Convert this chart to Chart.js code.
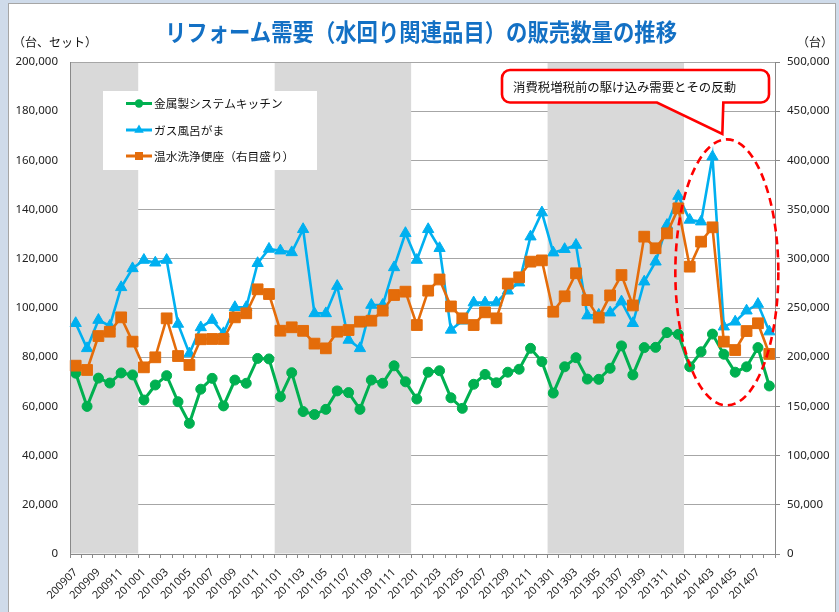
<!DOCTYPE html>
<html>
<head>
<meta charset="utf-8">
<script src="https://cdn.jsdelivr.net/npm/chart.js@4.4.1/dist/chart.umd.min.js"></script>
<style>
  html, body { margin: 0; padding: 0; }
  body { width: 839px; height: 612px; overflow: hidden; background: #cfdbea; position: relative; font-family: "Noto Sans CJK JP", sans-serif; }
  #panel { position: absolute; left: 8px; top: 3px; width: 828px; height: 620px; background: #fff; border: 1px solid #a6a6a6; box-sizing: border-box; }
  #c { position: absolute; left: 0; top: 0; }
  .txt { position: absolute; white-space: nowrap; color: #111; font-family: "Noto Sans CJK JP", sans-serif; }
  #title { left: 165px; top: 19px; font-size: 24px; line-height: 24px; font-weight: bold; color: #1370c4; transform: scaleX(0.89); transform-origin: 0 0; }
  #unitL { left: 13px; top: 36px; font-size: 12px; line-height: 12px; }
  #unitR { right: 6px; top: 36px; font-size: 12px; line-height: 12px; }
</style>
</head>
<body>
<div id="panel"></div>
<canvas id="c" width="839" height="612"></canvas>
<div class="txt" id="title">リフォーム需要（水回り関連品目）の販売数量の推移</div>
<div class="txt" id="unitL">（台、セット）</div>
<div class="txt" id="unitR">（台）</div>
<script>
// ---- data ----
const categories = [
  '200907','200908','200909','200910','200911','200912',
  '201001','201002','201003','201004','201005','201006','201007','201008','201009','201010','201011','201012',
  '201101','201102','201103','201104','201105','201106','201107','201108','201109','201110','201111','201112',
  '201201','201202','201203','201204','201205','201206','201207','201208','201209','201210','201211','201212',
  '201301','201302','201303','201304','201305','201306','201307','201308','201309','201310','201311','201312',
  '201401','201402','201403','201404','201405','201406','201407','201408'
];
const seriesNames = ['金属製システムキッチン', 'ガス風呂がま', '温水洗浄便座（右目盛り）'];
const kitchen = [
  73500, 60000, 71500, 69500, 73600, 72800, 62600, 68700, 72500, 61900,
  53100, 67000, 71400, 60200, 70700, 69400, 79500, 79300, 63900, 73700,
  57900, 56700, 58800, 66300, 65600, 58800, 70700, 69400, 76500, 70000,
  63000, 73900, 74500, 63500, 59200, 69000, 73000, 69600, 73900, 75100,
  83600, 78200, 65400, 76100, 79800, 71100, 71000, 75500, 84600, 72800,
  83900, 84000, 90000, 89300, 76100, 82200, 89400, 81200, 73900, 76100,
  83900, 68300
];
const bath = [
  93800, 83600, 95100, 92700, 108400, 116100, 119500, 118400, 119500, 93500,
  81500, 92100, 95100, 89700, 100300, 100300, 118200, 124000, 123300, 122600,
  132000, 97800, 97800, 108900, 87000, 83600, 101200, 101200, 116500, 130400,
  119500, 132000, 124300, 91100, 94800, 102200, 102200, 102200, 107000, 110300,
  129000, 138800, 122500, 123900, 125600, 96900, 97200, 98100, 102600, 93800,
  110700, 118800, 133700, 145500, 135800, 135100, 161500, 92400, 94400, 98900,
  101600, 90400
];
const toilet = [
  191400, 187000, 221500, 225900, 240500, 215800, 189700, 199900, 239500, 201200,
  192100, 218200, 218500, 218500, 240500, 244600, 269000, 264200, 226900, 230400,
  226800, 213800, 209000, 225900, 227600, 236100, 237100, 247300, 263200, 266600,
  232700, 267600, 279000, 251600, 239500, 232700, 245600, 239500, 274800, 281200,
  297100, 298400, 246200, 261900, 285300, 258000, 240200, 262800, 283500, 252600,
  322500, 310700, 325900, 351300, 292000, 317400, 332000, 215800, 207300, 226600,
  234500, 203300
];
const shadedYears = ['2009', '2011', '2013'];
const leftTicks = { min: 0, max: 200000, step: 20000 };
const rightTicks = { min: 0, max: 500000, step: 50000 };
const calloutText = '消費税増税前の駆け込み需要とその反動';

// ---- plugins ----
const shadePlugin = {
  id: 'shade',
  beforeDatasetsDraw(chart) {
    const { ctx, chartArea: a, scales: { x } } = chart;
    const half = (x.getPixelForValue(1) - x.getPixelForValue(0)) / 2;
    ctx.save();
    ctx.fillStyle = '#d9d9d9';
    shadedYears.forEach(yr => {
      const idx = categories.map((c, i) => c.startsWith(yr) ? i : -1).filter(i => i >= 0);
      if (!idx.length) return;
      const l = Math.max(a.left + 0.5, x.getPixelForValue(idx[0]) - half);
      const r = Math.min(a.right - 0.5, x.getPixelForValue(idx[idx.length - 1]) + half);
      ctx.fillRect(l, a.top + 1, r - l, a.bottom - a.top - 1.5);
    });
    ctx.restore();
  }
};

function marker(ctx, style, x, y, r) {
  ctx.beginPath();
  if (style === 'circle') {
    ctx.arc(x, y, r, 0, Math.PI * 2);
  } else if (style === 'triangle') {
    ctx.moveTo(x, y - r);
    ctx.lineTo(x + r * 0.866, y + r * 0.5);
    ctx.lineTo(x - r * 0.866, y + r * 0.5);
    ctx.closePath();
  } else {
    ctx.rect(x - r, y - r, 2 * r, 2 * r);
  }
  ctx.fill();
}

const overlayPlugin = {
  id: 'overlay',
  afterDraw(chart) {
    const { ctx, scales: { x, y } } = chart;
    ctx.save();
    // legend box
    ctx.fillStyle = '#ffffff';
    ctx.fillRect(103, 91, 214, 79);
    const rows = [103.5, 130, 156];
    const msize = { circle: 4.2, triangle: 5.5, rect: 4 };
    chart.data.datasets.forEach((ds, i) => {
      const ry = rows[i];
      ctx.strokeStyle = ds.borderColor;
      ctx.lineWidth = 3;
      ctx.beginPath(); ctx.moveTo(126, ry); ctx.lineTo(152, ry); ctx.stroke();
      ctx.fillStyle = ds.backgroundColor;
      marker(ctx, ds.pointStyle, 139, ry, msize[ds.pointStyle]);
      ctx.fillStyle = '#111';
      ctx.font = '11.7px "Noto Sans CJK JP"';
      ctx.textBaseline = 'middle';
      ctx.textAlign = 'left';
      ctx.fillText(ds.label, 154, ry + 0.5);
    });

    // dashed ellipse around the 2014 spike
    const cx = x.getPixelForValue(57) + 3;
    const cy = y.getPixelForValue(114500);
    ctx.strokeStyle = '#ff0000';
    ctx.lineWidth = 2.6;
    ctx.setLineDash([8, 5]);
    ctx.beginPath();
    ctx.ellipse(cx, cy, 51.5, 133, 0, 0, Math.PI * 2);
    ctx.stroke();
    ctx.setLineDash([]);

    // callout box
    const L = 502, T = 70, R = 769, B = 102.5, rad = 8;
    const tipX = cx - 4.5, tipY = 134;
    ctx.beginPath();
    ctx.moveTo(L + rad, T);
    ctx.lineTo(R - rad, T);
    ctx.arcTo(R, T, R, T + rad, rad);
    ctx.lineTo(R, B - rad);
    ctx.arcTo(R, B, R - rad, B, rad);
    ctx.lineTo(tipX + 1, B);
    ctx.lineTo(tipX, tipY);
    ctx.lineTo(657, B);
    ctx.lineTo(L + rad, B);
    ctx.arcTo(L, B, L, B - rad, rad);
    ctx.lineTo(L, T + rad);
    ctx.arcTo(L, T, L + rad, T, rad);
    ctx.closePath();
    ctx.fillStyle = '#ffffff';
    ctx.fill();
    ctx.strokeStyle = '#ff0000';
    ctx.lineWidth = 2.6;
    ctx.stroke();
    ctx.fillStyle = '#111';
    ctx.font = '12.4px "Noto Sans CJK JP"';
    ctx.textBaseline = 'middle';
    ctx.textAlign = 'left';
    ctx.fillText(calloutText, 513, 87);
    ctx.restore();
  }
};

const fmt = v => Number(v).toLocaleString('en-US');
const axisGray = '#898989';

new Chart(document.getElementById('c'), {
  type: 'line',
  data: {
    labels: categories,
    datasets: [
      {
        label: seriesNames[0], data: kitchen, yAxisID: 'y',
        borderColor: '#00b050', backgroundColor: '#00b050',
        pointStyle: 'circle', pointRadius: 5, pointBorderWidth: 1,
        pointBorderColor: '#00b050', pointBackgroundColor: '#00b050',
        borderWidth: 3, tension: 0, order: 2
      },
      {
        label: seriesNames[1], data: bath, yAxisID: 'y',
        borderColor: '#00b0f0', backgroundColor: '#00b0f0',
        pointStyle: 'triangle', pointRadius: 6.5, pointBorderWidth: 1,
        pointBorderColor: '#00b0f0', pointBackgroundColor: '#00b0f0',
        borderWidth: 2.6, tension: 0, order: 1
      },
      {
        label: seriesNames[2], data: toilet, yAxisID: 'y2',
        borderColor: '#e46c0a', backgroundColor: '#e46c0a',
        pointStyle: 'rect', pointRadius: 7.6, pointBorderWidth: 1,
        pointBorderColor: '#e46c0a', pointBackgroundColor: '#e46c0a',
        borderWidth: 2.6, tension: 0, order: 0
      }
    ]
  },
  options: {
    responsive: false,
    animation: false,
    devicePixelRatio: 1,
    layout: { padding: { top: 62, left: 0, right: 0, bottom: 0 } },
    plugins: { legend: { display: false }, tooltip: { enabled: false }, title: { display: false } },
    scales: {
      x: {
        type: 'category',
        offset: true,
        grid: { offset: true, drawOnChartArea: false, drawTicks: true, tickLength: 4, color: axisGray },
        border: { color: axisGray, z: 1 },
        ticks: {
          autoSkip: false, maxRotation: 45, minRotation: 45, padding: 8,
          color: '#222', font: { family: 'Noto Sans', size: 11 },
          callback(v, i) { return i % 2 === 0 ? this.getLabelForValue(v) : ''; }
        },
        afterFit(s) { s.height = 58; }
      },
      y: {
        position: 'left',
        min: leftTicks.min, max: leftTicks.max,
        grid: { color: '#a6a6a6', drawTicks: false, lineWidth: 1 },
        border: { color: axisGray, z: 1 },
        ticks: { stepSize: leftTicks.step, padding: 12, color: '#222', font: { family: 'Noto Sans', size: 11.5 }, callback: v => fmt(v) },
        afterFit(s) { s.width = 70; }
      },
      y2: {
        position: 'right',
        min: rightTicks.min, max: rightTicks.max,
        grid: { drawOnChartArea: false, drawTicks: true, tickLength: 5, color: axisGray },
        border: { color: axisGray, z: 1 },
        ticks: { stepSize: rightTicks.step, padding: 7, color: '#222', font: { family: 'Noto Sans', size: 11.5 }, callback: v => fmt(v) },
        afterFit(s) { s.width = 64; }
      }
    }
  },
  plugins: [shadePlugin, overlayPlugin]
});
</script>
</body>
</html>
